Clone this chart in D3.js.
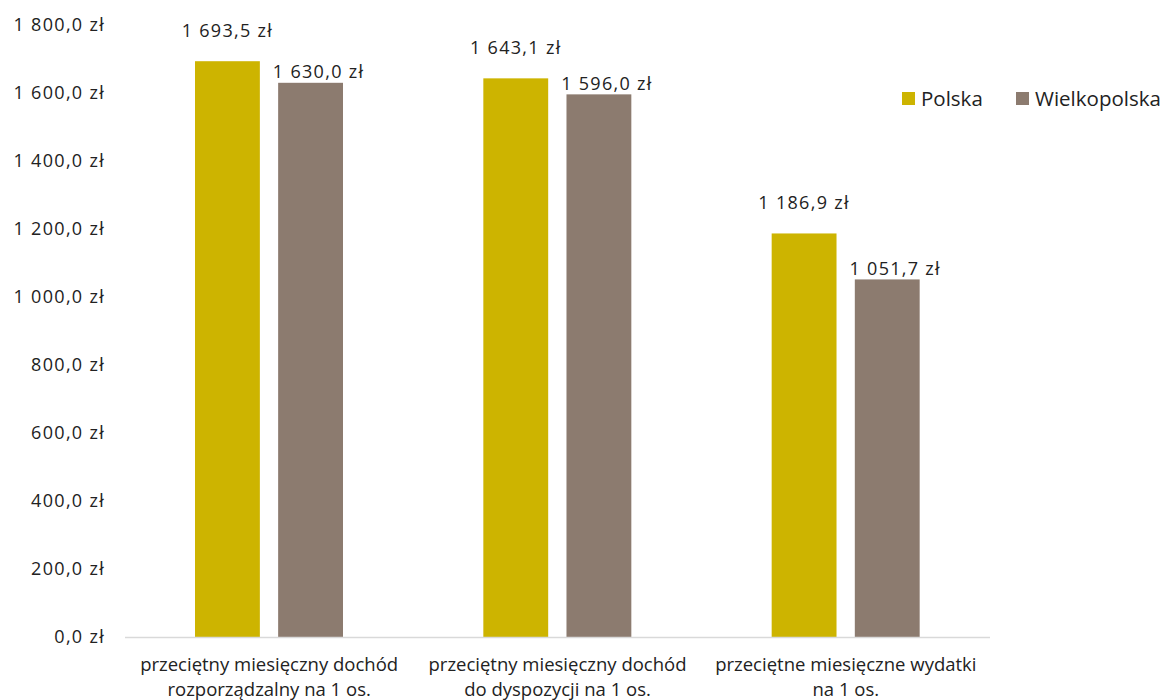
<!DOCTYPE html>
<html><head><meta charset="utf-8">
<script src="https://cdn.jsdelivr.net/npm/d3@7"></script>
<style>body{margin:0;background:#fff;}svg{display:block;font-family:"Open Sans",sans-serif;}</style>
</head><body><svg id="c" width="1170" height="700"></svg>
<script>
const categories = [
  ["przeciętny miesięczny dochód", "rozporządzalny na 1 os."],
  ["przeciętny miesięczny dochód", "do dyspozycji na 1 os."],
  ["przeciętne miesięczne wydatki", "na 1 os."]
];
const seriesNames = ["Polska", "Wielkopolska"];
const polska = [1693.5, 1643.1, 1186.9];
const wielkopolska = [1630.0, 1596.0, 1051.7];
const yTicks = [0, 200, 400, 600, 800, 1000, 1200, 1400, 1600, 1800];
const colors = ["#CDB400", "#8C7B6F"];

const svg = d3.select("#c");
const fmt = v => {
  const s = v.toFixed(1).replace(".", ",");
  const [i, d] = s.split(",");
  return i.replace(/\B(?=(\d{3})+(?!\d))/g, " ") + "," + d + " zł";
};
const mLeft = 125, mRight = 990, mTop = 25, mBottom = 637;
const y = d3.scaleLinear().domain([0, 1800]).range([mBottom, mTop]);
const x0 = d3.scaleBand().domain(d3.range(categories.length)).range([mLeft, mRight]).paddingInner(0).paddingOuter(0);
const x1 = d3.scaleBand().domain(d3.range(seriesNames.length)).range([70, 218]).paddingInner(0.22).paddingOuter(0);

// y axis labels
const yAxis = d3.axisLeft(y).tickValues(yTicks).tickSize(0).tickPadding(0).tickFormat(fmt);
const ya = svg.append("g").attr("transform", `translate(105,0)`).call(yAxis);
ya.select(".domain").remove();
ya.selectAll("text").attr("font-size", 18).attr("fill", "#222").attr("font-family", "Open Sans, sans-serif")
  .attr("letter-spacing", "1.3px").attr("dy", "0.3em");

// bars
const data = [polska, wielkopolska];
const offsets = [-30, -10];
data.forEach((vals, si) => {
  const g = svg.append("g");
  g.selectAll("rect").data(vals).join("rect")
    .attr("x", (d, i) => x0(i) + x1(si))
    .attr("y", d => y(d))
    .attr("width", x1.bandwidth())
    .attr("height", d => y(0) - y(d))
    .attr("fill", colors[si]);
  g.selectAll("text").data(vals).join("text")
    .attr("x", (d, i) => x0(i) + x1(si) + x1.bandwidth() / 2 + (si === 1 ? 8 : 0))
    .attr("y", d => y(d) + offsets[si])
    .attr("dy", "0.3em")
    .attr("text-anchor", "middle")
    .attr("font-size", 18).attr("letter-spacing", "1.3px").attr("fill", "#222")
    .text(fmt);
});

// x axis line
svg.append("line").attr("x1", mLeft).attr("x2", mRight).attr("y1", mBottom + 0.5).attr("y2", mBottom + 0.5)
  .attr("stroke", "#d9d9d9").attr("stroke-width", 1.5);

// category labels
categories.forEach((lines, i) => {
  const t = svg.append("text").attr("text-anchor", "middle").attr("font-size", 18.5).attr("fill", "#222");
  lines.forEach((ln, j) => {
    t.append("tspan").attr("x", x0(i) + x0.bandwidth() / 2).attr("y", 671 + j * 25).text(ln);
  });
});

// legend
const legX = [902, 1016];
seriesNames.forEach((n, i) => {
  svg.append("rect").attr("x", legX[i]).attr("y", 92).attr("width", 13).attr("height", 13).attr("fill", colors[i]);
  svg.append("text").attr("x", legX[i] + 19).attr("y", 99).attr("dy", "0.35em")
    .attr("font-size", 20.5).attr("fill", "#222").text(n);
});
</script></body></html>
